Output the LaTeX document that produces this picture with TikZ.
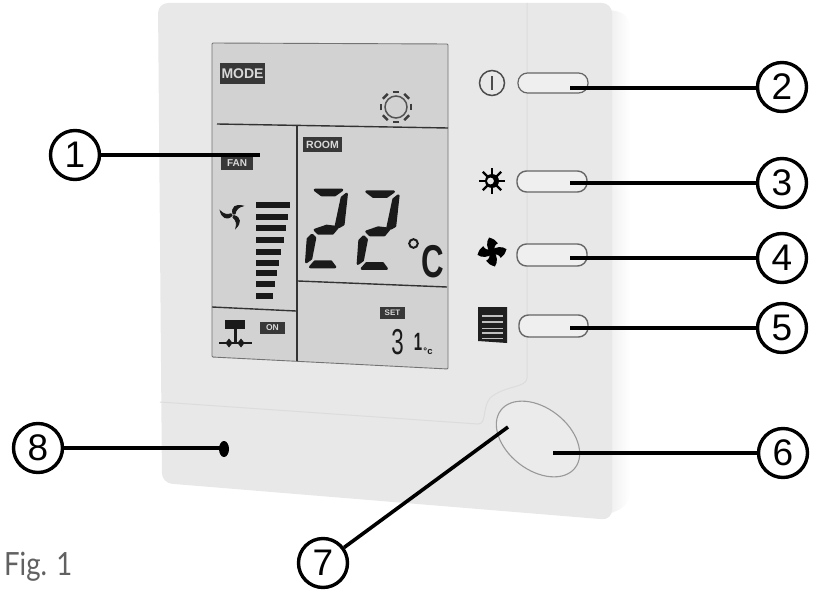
\documentclass[tikz,border=0pt]{standalone}
\usepackage{fontspec}
\setmainfont{Liberation Sans}
\newfontfamily\figfont{Lato}
\definecolor{bodygray}{HTML}{E8E8E8}
\definecolor{lcdgray}{HTML}{D2D2D2}
\definecolor{seamgray}{HTML}{DCDCDC}
\definecolor{inkdark}{HTML}{1A1A1A}
\tikzset{
  x=1pt,y=-1pt,
  callout/.style={circle,draw=black,line width=3.4pt,fill=white,minimum size=49pt,inner sep=0pt,font=\fontsize{37}{37}\selectfont},
  leader/.style={draw=black,line width=3.6pt},
  keybtn/.style={draw=black!60,line width=1.2pt,rounded corners=9.5pt,fill=bodygray!70!white},
  lcdline/.style={draw=black!80,line width=1.4pt},
  tag/.style={fill=black!78,text=white!85!black,inner sep=0pt,font=\bfseries\fontsize{10}{10}\selectfont,align=center},
  seg/.style={fill=inkdark,draw=inkdark,line width=2.6pt,line join=round},
  bar/.style={draw=inkdark,line width=5.4pt},
}
\newcommand{\segtwo}{%
  \path[seg] (345,480)--(426,480)--(405,495)--(365,495)--cycle;
  \path[seg] (440,492)--(430,583)--(418,590)--(408,588)--(426,503)--cycle;
  \path[seg] (345,600)--(380,588)--(413,592)--(398,610)--(355,610)--cycle;
  \path[seg] (336,615)--(345,624)--(333,686)--(319,696)--(324,627)--cycle;
  \path[seg] (345,695)--(393,695)--(405,711)--(331,711)--cycle;
}
\begin{document}
\begin{tikzpicture}
\useasboundingbox (0,0) rectangle (824,604);
% soft edge of the casing
\shade[left color=bodygray,right color=white,rounded corners=12pt] (600,8)--(630,14)--(630,505)--(600,518)--cycle;
\fill[bodygray,rounded corners=10pt] (158,3)--(612,3)--(612,520)--(162,483)--cycle;
% seams
\draw[seamgray,line width=1pt] (527,3)--(527,378) .. controls (527,388) and (505,385) .. (490,398) .. controls (482,408) and (487,424) .. (478,424)--(160,402);
% LCD
\fill[lcdgray,draw=black!55,line width=.9pt,rounded corners=1pt] (212,43)--(448,44)--(448,369)--(212,357)--cycle;
\draw[lcdline] (217,124)--(448,128);
\draw[lcdline] (297,126)--(297,361);
\draw[lcdline] (298,281)--(447,287);
\draw[lcdline] (212,307)--(296,311);
% tags
\node[tag,minimum width=45pt,minimum height=21pt,font=\bfseries\fontsize{14}{14}\selectfont] (modetag) at (242.5,73.5) {MODE};
\node[tag,minimum width=39pt,minimum height=15pt,font=\bfseries\fontsize{10.5}{10.5}\selectfont] (roomtag) at (322.5,145) {ROOM};
\node[tag,minimum width=32pt,minimum height=13pt] (fantag) at (237,163.5) {FAN};
\node[tag,minimum width=25pt,minimum height=12pt,font=\bfseries\fontsize{8.5}{8.5}\selectfont] (ontag) at (272.5,328) {ON};
\node[tag,minimum width=25pt,minimum height=12pt,font=\bfseries\fontsize{8}{8}\selectfont] (settag) at (392.5,313) {SET};
% LCD sun
\draw[inkdark!75,line width=1.5pt] (396,107) circle (11);
\foreach \a in {0,45,...,315}{\draw[inkdark!85,line width=2.4pt] (396,107)+(\a-13:15.5)--+(\a+13:15.5);}
% LCD fan
\begin{scope}[shift={(233,215)}]
\foreach \a in {0,120,240}{\path[fill=inkdark,draw=inkdark,line width=.8pt,rotate=\a] (0,-1) .. controls (-2,-8) and (3,-11) .. (10,-9) .. controls (6,-8) and (3,-6) .. (2,-1)--cycle;}
\end{scope}
% bars
\foreach \y/\xe in {205/290,217/288,228/286,240/284,252/281,263/279,273/277,284/275,296/273}{\draw[bar] (256,\y)--(\xe,\y);}
% big digits
\begin{scope}[x=.3333pt,y=-.3333pt,shift={(600,90)}]
\segtwo
\end{scope}
\begin{scope}[x=.3333pt,y=-.3333pt,shift={(755,95)}]
\segtwo
\end{scope}
\draw[inkdark,line width=2pt] (413.5,243.5) circle (4.3);
\node[inkdark,inner sep=0pt,xscale=.68,font=\bfseries\fontsize{46}{46}\selectfont] (celsius) at (433,262) {C};
% small reading
\node[inkdark,inner sep=0pt,xscale=.62,font=\fontsize{36}{36}\selectfont] (setthree) at (397.5,342) {3};
\node[inkdark,inner sep=0pt,xscale=.6,font=\bfseries\fontsize{25}{25}\selectfont] (setone) at (418,342) {1};
\node[inkdark,inner sep=0pt,font=\bfseries\fontsize{9.5}{9.5}\selectfont] (setunit) at (428,351) {°c};
% outdoor symbol
\fill[inkdark] (225,320) rectangle (245,329);
\draw[inkdark,line width=3pt] (235,329)--(235,343);
\draw[inkdark,line width=2pt] (219,343)--(252,343);
\foreach \x in {229,241}{\fill[inkdark] (\x,338.5)--(\x+3.5,343)--(\x,347.5)--(\x-3.5,343)--cycle;}
% button icons
\draw[black!70,line width=1.5pt] (492,83) circle (12.5);
\draw[black!70,line width=1.5pt] (492,76)--(492,90);
\begin{scope}[shift={(492,181)}]
\fill[black] (0,0) circle (7);
\foreach \a in {0,45,...,315}{\draw[black,line width=2.4pt] (\a:6)--(\a:13);}
\fill[bodygray] (-1.5,0) circle (3.4);
\end{scope}
\begin{scope}[shift={(492,252)},scale=1.45]
\foreach \a in {0,90,180,270}{\fill[black,rotate=\a] (-1,1) .. controls (-4,-3) and (-4,-7) .. (-2,-10) .. controls (1,-9) and (3,-8) .. (4,-6) .. controls (2,-5) and (1,-3) .. (2,0)--cycle;}
\end{scope}
\fill[black!88] (478,307)--(507,307)--(507,343)--(478,341)--cycle;
\foreach \y/\w in {316/1.4,322/1.2,328/.7,333/1.2,338/.9}{\draw[white!75!black,line width=\w pt] (482,\y)--(503,\y);}
% buttons
\path[keybtn] (518,73) rectangle (588,93);
\path[keybtn,line width=1.4pt] (517,171) rectangle (587,192);
\path[keybtn,line width=1.4pt] (517,244) rectangle (587,266);
\path[keybtn,line width=1.4pt] (519,315) rectangle (588,337);
% round key
\draw[black!40,line width=1.1pt,fill=bodygray!85!white,rotate around={-38:(538,439)}] (538,439) ellipse (47 and 31);
% LED
\fill[black] (224,449) ellipse (5 and 8);
% callouts
\node[callout] (n1) at (75,155) {1};
\node[callout] (n2) at (782,87) {2};
\node[callout] (n3) at (782,183) {3};
\node[callout] (n4) at (782,258) {4};
\node[callout] (n5) at (782,328) {5};
\node[callout] (n6) at (783,453) {6};
\node[callout] (n7) at (323,563) {7};
\node[callout] (n8) at (38,448) {8};
\coordinate (p1) at (260,155);
\coordinate (p2) at (570,88);
\coordinate (p3) at (570,183);
\coordinate (p4) at (570,258);
\coordinate (p5) at (570,328);
\coordinate (p6) at (553,453);
\coordinate (p7) at (508,427);
\coordinate (p8) at (224,448);
\draw[leader] (n1)--(p1);
\draw[leader] (n2.west|-p2)--(p2);
\draw[leader] (n3)--(p3);
\draw[leader] (n4)--(p4);
\draw[leader] (n5)--(p5);
\draw[leader] (n6)--(p6);
\draw[leader] (n7)--(p7);
\draw[leader] (n8)--(p8);
% caption
\node[anchor=base west,inner sep=0pt,text=black!62,xscale=.86,font=\figfont\fontsize{32}{32}\selectfont] (caption) at (4,575) {Fig. 1};
\end{tikzpicture}
\end{document}
